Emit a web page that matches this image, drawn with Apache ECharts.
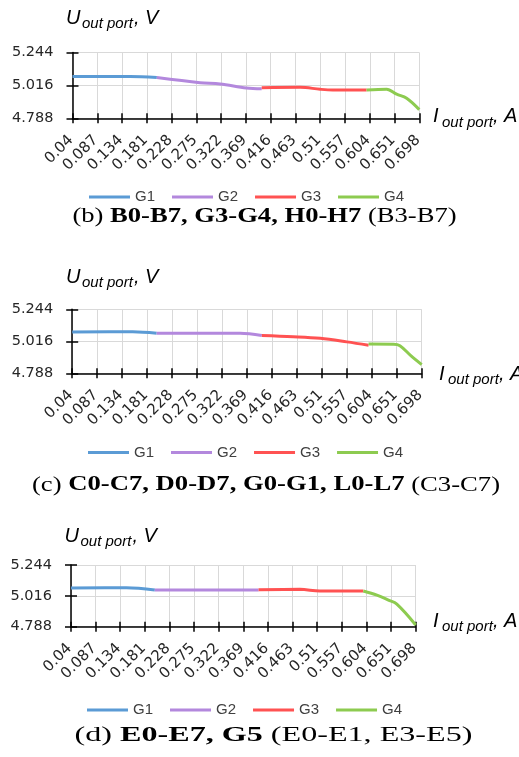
<!DOCTYPE html>
<html><head><meta charset="utf-8">
<script src="https://cdn.jsdelivr.net/npm/echarts@6/dist/echarts.min.js"></script>
<style>html,body{margin:0;padding:0;background:#fff}#c{width:519px;height:757px}</style>
</head><body><div id="c"></div><script>
// ---- data ----
const xLabels = ['0.04','0.087','0.134','0.181','0.228','0.275','0.322','0.369','0.416','0.463','0.51','0.557','0.604','0.651','0.698'];
const xStart = 0.04, xStep = 0.047;
const yMin = 4.788, yMax = 5.244, yStep = 0.228;
const seriesNames = ['G1','G2','G3','G4'];
const colors = ['#5B9BD5','#B388DD','#FF5252','#8DCB50'];

// panel (b): [I, U]
const bG1 = [[0.040,5.077],[0.149,5.077],[0.200,5.070]];
const bG2 = [[0.200,5.070],[0.282,5.035],[0.320,5.026],[0.370,4.998],[0.399,4.992]];
const bG3 = [[0.399,5.000],[0.472,5.003],[0.510,4.989],[0.534,4.984],[0.598,4.984]];
const bG4 = [[0.598,4.984],[0.636,4.990],[0.655,4.955],[0.674,4.927],[0.698,4.848]];
// panel (c)
const cG1 = [[0.040,5.083],[0.154,5.084],[0.199,5.073]];
const cG2 = [[0.199,5.073],[0.356,5.073],[0.397,5.058]];
const cG3 = [[0.397,5.058],[0.456,5.049],[0.507,5.037],[0.557,5.012],[0.598,4.988]];
const cG4 = [[0.598,4.996],[0.645,4.995],[0.657,4.985],[0.678,4.912],[0.698,4.850]];
// panel (d)
const dG1 = [[0.040,5.074],[0.146,5.076],[0.200,5.060]];
const dG2 = [[0.200,5.060],[0.398,5.060]];
const dG3 = [[0.398,5.062],[0.477,5.064],[0.515,5.052],[0.598,5.052]];
const dG4 = [[0.598,5.052],[0.624,5.022],[0.646,4.985],[0.662,4.955],[0.698,4.801]];

const panelData = [[bG1,bG2,bG3,bG4],[cG1,cG2,cG3,cG4],[dG1,dG2,dG3,dG4]];
const captionLetters = ['(b) ','(c) ','(d) '];
const captionBold = ['B0-B7, G3-G4, H0-H7','C0-C7, D0-D7, G0-G1, L0-L7','E0-E7, G5'];
const captionTail = [' (B3-B7)',' (C3-C7)',' (E0-E1, E3-E5)'];

// ---- layout ----
const layouts = [
  {grid:{left:72.5,top:52.5,width:346.8,height:65.8}, yT:{x:66,yU:18,yS:23.5}, xN:{x:433,yU:116,yS:122.5}, legend:{left:89,top:189.5}, cap:{x:264.5,y:217,fs:20,sx:1.33}},
  {grid:{left:72.2,top:309.3,width:349.5,height:64}, yT:{x:66,yU:277,yS:282.5}, xN:{x:439,yU:374.5,yS:380}, legend:{left:88,top:445}, cap:{x:266,y:485,fs:21,sx:1.27}},
  {grid:{left:71,top:565,width:344.7,height:61.7}, yT:{x:64.5,yU:536,yS:541.5}, xN:{x:433,yU:621,yS:627}, legend:{left:87,top:702.5}, cap:{x:273.5,y:735,fs:22,sx:1.46}}
];

const AX = '#000', GRID = '#D9D9D9', LBL = '#262626';
const grids=[], xAxes=[], yAxes=[], series=[], legends=[], graphics=[];
const xMax = xStep*(xLabels.length-1);
layouts.forEach((L,p)=>{
  grids.push(Object.assign({containLabel:false}, L.grid));
  xAxes.push({gridIndex:p,type:'value',min:0,max:xMax,interval:xStep,
    axisLine:{show:true,onZero:false,lineStyle:{color:AX,width:1.5}},
    axisTick:{show:true,length:5,lineStyle:{color:AX,width:1.5}},
    splitLine:{show:true,lineStyle:{color:GRID,width:1}},
    axisLabel:{rotate:45,margin:18,color:LBL,fontFamily:'DejaVu Sans',fontSize:15,
      padding:[12,2,-12,0],
      formatter:v=>xLabels[Math.round(v/xStep)]||''}});
  xAxes.push({gridIndex:p,type:'value',min:0,max:xMax,interval:xStep,position:'bottom',
    axisLine:{show:false},axisTick:{show:true,inside:true,length:5,lineStyle:{color:AX,width:1.5}},
    splitLine:{show:false},axisLabel:{show:false}});
  yAxes.push({gridIndex:p,type:'value',min:yMin,max:yMax,interval:yStep,
    axisLine:{show:true,onZero:false,lineStyle:{color:AX,width:1.5}},
    axisTick:{show:true,length:6,lineStyle:{color:AX,width:1.5}},
    splitLine:{show:true,lineStyle:{color:GRID,width:1}},
    axisLabel:{margin:19,color:LBL,fontFamily:'DejaVu Sans',fontSize:14.5,formatter:v=>v.toFixed(3)}});
  yAxes.push({gridIndex:p,type:'value',min:yMin,max:yMax,interval:yStep,position:'left',
    axisLine:{show:false},axisTick:{show:true,inside:true,length:6,lineStyle:{color:AX,width:1.5}},
    splitLine:{show:false},axisLabel:{show:false}});
  panelData[p].forEach((arr,g)=>{
    series.push({type:'line',name:seriesNames[g],xAxisIndex:p*2,yAxisIndex:p*2,
      data:arr.map(d=>[d[0]-xStart,d[1]]),smooth:0.35,showSymbol:false,symbol:'none',
      lineStyle:{width:3,color:colors[g]},itemStyle:{color:colors[g]},z:3});
  });
  legends.push({left:L.legend.left,top:L.legend.top,orient:'horizontal',icon:'rect',itemWidth:41,itemHeight:3,
    itemGap:17,padding:0,selectedMode:false,data:seriesNames,
    textStyle:{fontFamily:'Liberation Sans',fontSize:15,color:'#404040'}});
  const it = {fontFamily:'Liberation Sans',fontStyle:'italic',fill:'#000'};
  graphics.push({type:'text',x:L.yT.x,y:L.yT.yU,style:Object.assign({text:'U',fontSize:20,verticalAlign:'middle'},it)});
  graphics.push({type:'text',x:L.yT.x+16,y:L.yT.yS,style:Object.assign({text:'out port',fontSize:15,verticalAlign:'middle'},it)});
  graphics.push({type:'text',x:L.yT.x+68,y:L.yT.yU,style:Object.assign({text:', V',fontSize:20,verticalAlign:'middle'},it)});
  graphics.push({type:'text',x:L.xN.x,y:L.xN.yU,style:Object.assign({text:'I',fontSize:20,verticalAlign:'middle'},it)});
  graphics.push({type:'text',x:L.xN.x+9,y:L.xN.yS,style:Object.assign({text:'out port',fontSize:15,verticalAlign:'middle'},it)});
  graphics.push({type:'text',x:L.xN.x+60,y:L.xN.yU,style:Object.assign({text:', A',fontSize:20,verticalAlign:'middle'},it)});
  const fs = L.cap.fs;
  graphics.push({type:'text',x:L.cap.x,y:L.cap.y,scaleX:L.cap.sx,style:{
    text:'{n|'+captionLetters[p]+'}{b|'+captionBold[p]+'}{n|'+captionTail[p]+'}',
    align:'center',verticalAlign:'middle',fill:'#000',
    rich:{n:{fontFamily:'Liberation Serif',fontSize:fs,fill:'#000'},b:{fontFamily:'Liberation Serif',fontSize:fs,fontWeight:'bold',fill:'#000'}}}});
});

const chart = echarts.init(document.getElementById('c'),null,{renderer:'canvas'});
chart.setOption({animation:false,backgroundColor:'#fff',grid:grids,xAxis:xAxes,yAxis:yAxes,series:series,legend:legends,graphic:graphics});
</script></body></html>
